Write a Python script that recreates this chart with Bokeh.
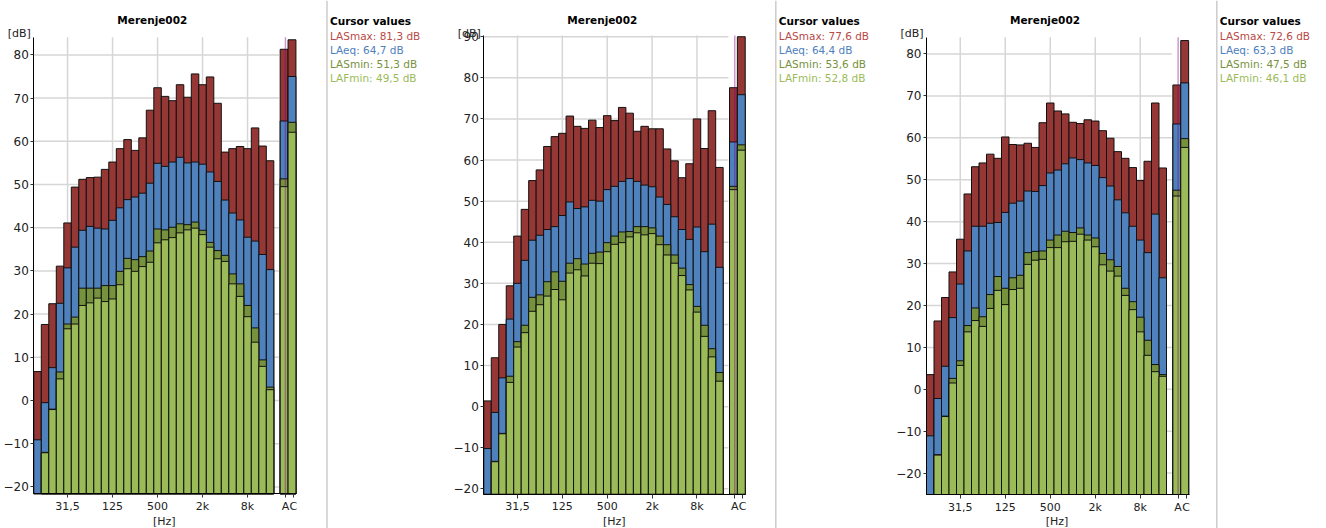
import numpy as np
from bokeh.plotting import figure
from bokeh.layouts import row
from bokeh.models import Range1d, FixedTicker, SingleIntervalTicker
from bokeh.core.properties import value
from bokeh.embed import file_html
from bokeh.resources import INLINE

# ---------------- data ----------------
bands = ["12,5", "16", "20", "25", "31,5", "40", "50", "63", "80", "100", "125", "160",
         "200", "250", "315", "400", "500", "630", "800", "1k", "1,25k", "1,6k", "2k",
         "2,5k", "3,15k", "4k", "5k", "6,3k", "8k", "10k", "12,5k", "16k"]
labelled_bands = ["31,5", "125", "500", "2k", "8k"]
ac_labels = ["A", "C"]
series_names = ["LASmax", "LAeq", "LASmin", "LAFmin"]
panel_titles = ["Merenje002", "Merenje002", "Merenje002"]

p1_lasmax = [6.7, 17.6, 22.4, 31.1, 41.1, 49.4, 51.2, 51.6, 51.7, 53.5, 55.2, 58.3, 60.4, 57.9,
             60.8, 67.2, 72.4, 70.4, 69.4, 73.1, 70.2, 75.6, 73.1, 74.9, 68.8, 57.5, 58.3, 58.8,
             58.3, 63.1, 58.9, 55.5]
p1_laeq = [-9.1, -0.5, 7.6, 22.5, 30.7, 35.5, 39.4, 40.3, 39.9, 39.7, 41.7, 44.6, 46.5, 47.1,
           48.0, 50.3, 54.9, 54.2, 55.2, 56.3, 55.0, 55.2, 54.7, 52.9, 50.7, 46.4, 43.4, 41.8,
           37.8, 36.9, 33.8, 30.3]
p1_lasmin = [-30.0, -12.0, -2.0, 6.6, 17.7, 19.3, 26.0, 26.0, 26.0, 26.6, 26.6, 29.9, 32.9, 32.6,
             33.3, 34.6, 39.7, 39.5, 40.1, 40.9, 40.7, 41.3, 39.4, 36.6, 34.7, 33.6, 29.3, 27.0,
             22.0, 16.8, 9.4, 3.1]
p1_lafmin = [-30.0, -12.1, -2.1, 5.0, 16.6, 17.7, 22.0, 22.6, 23.7, 22.9, 23.5, 26.8, 30.5, 29.9,
             31.0, 32.0, 36.5, 37.2, 37.7, 38.8, 39.5, 39.9, 38.4, 35.5, 32.8, 32.2, 27.0, 24.1,
             19.4, 13.5, 7.9, 2.5]
p1_ac = {"LASmax": [81.3, 83.5], "LAeq": [64.7, 75.0], "LASmin": [51.3, 64.4], "LAFmin": [49.5, 62.1]}

p2_lasmax = [1.4, 11.9, 20.0, 29.4, 41.5, 48.0, 55.0, 57.6, 63.3, 65.7, 66.5, 70.7, 68.2, 67.7,
             69.7, 67.9, 70.8, 69.6, 72.8, 71.4, 67.0, 68.2, 67.6, 67.6, 62.7, 59.8, 55.7, 59.1,
             70.0, 62.8, 72.0, 58.2]
p2_laeq = [-10.2, -1.4, 7.0, 21.3, 30.0, 35.6, 40.5, 41.7, 43.1, 43.8, 46.5, 49.8, 48.2, 48.6,
           50.2, 50.0, 52.8, 53.6, 54.8, 55.5, 54.8, 53.9, 53.5, 51.0, 49.2, 46.2, 43.1, 40.7,
           43.7, 37.7, 44.4, 33.9]
p2_lasmin = [-30.0, -13.3, -6.5, 7.4, 15.8, 19.8, 26.6, 27.2, 30.4, 32.8, 30.5, 34.9, 36.0, 34.7,
             37.3, 37.6, 39.9, 41.5, 42.5, 42.6, 43.8, 43.8, 43.5, 41.5, 39.4, 36.9, 33.7, 29.7,
             24.4, 19.8, 14.1, 8.3]
p2_lafmin = [-30.0, -13.4, -6.6, 5.9, 14.5, 18.0, 23.2, 24.8, 26.9, 28.5, 26.0, 32.5, 33.3, 31.8,
             34.9, 34.8, 37.7, 39.5, 39.9, 41.3, 42.3, 41.8, 42.1, 39.4, 36.9, 34.9, 31.9, 28.4,
             23.0, 17.1, 12.1, 6.2]
p2_ac = {"LASmax": [77.6, 90.0], "LAeq": [64.4, 75.9], "LASmin": [53.6, 63.7], "LAFmin": [52.8, 62.4]}

p3_lasmax = [3.5, 16.3, 21.9, 28.0, 35.8, 46.6, 53.1, 54.0, 56.1, 55.1, 60.2, 58.4, 58.3, 58.7,
             57.7, 63.6, 68.3, 66.4, 65.7, 63.7, 63.4, 64.3, 64.0, 61.7, 59.9, 56.7, 55.1, 52.9,
             49.8, 54.4, 68.3, 52.8]
p3_laeq = [-11.1, -2.2, 5.5, 17.1, 25.1, 33.0, 38.9, 38.9, 39.6, 39.8, 42.2, 44.4, 44.9, 47.3,
           47.2, 48.6, 51.6, 52.3, 53.8, 55.2, 54.8, 54.0, 53.4, 50.5, 48.5, 45.2, 42.1, 38.9,
           35.6, 32.6, 41.8, 26.6]
p3_lasmin = [-30.0, -15.6, -6.4, 2.6, 6.8, 15.2, 19.4, 17.3, 22.6, 26.9, 24.1, 26.6, 27.2, 32.6,
             32.9, 33.0, 35.6, 36.8, 37.7, 37.4, 38.5, 36.8, 36.1, 32.4, 30.9, 29.3, 24.1, 20.9,
             17.2, 11.7, 5.9, 3.5]
p3_lafmin = [-30.0, -15.7, -6.5, 1.5, 5.7, 13.7, 16.4, 15.0, 19.3, 23.6, 20.2, 23.8, 24.1, 29.8,
             30.8, 31.0, 33.8, 33.8, 35.2, 35.3, 37.0, 35.6, 34.0, 29.7, 28.2, 27.0, 22.4, 19.0,
             13.7, 8.1, 4.2, 3.1]
p3_ac = {"LASmax": [72.6, 83.2], "LAeq": [63.3, 73.1], "LASmin": [47.5, 59.8], "LAFmin": [46.1, 57.7]}

y_ranges = [(-21.6, 84.1), (-21.3, 90.3), (-25.1, 84.0)]

# ---------------- style / layout ----------------
COLORS = ["#953735", "#4F81BD", "#76923C", "#9BBB59"]
TEXT_COLORS = ["#B84A47", "#4F81BD", "#76923C", "#9BBB59"]
GRID = "#d6d6d6"
FONT = "DejaVu Sans"
H = 528
MAIN_END = 32.7
AC_LEFT = [32.85, 33.9]
AC_RIGHT = [33.9, 34.95]
AC_TICKS = [33.55, 34.6]
AXIS_END = 35.0

geom = [
    dict(left=0, width=451, axis=33.3, bw=7.5, top=36.7, bottom=493.3, sep=326.5),
    dict(left=451, width=443, axis=483.3, bw=7.48, top=35.0, bottom=493.7, sep=775.3),
    dict(left=894, width=432, axis=926.0, bw=7.5, top=36.7, bottom=494.0, sep=1216.3),
]


def fmt(v):
    return f"{v:.1f}".replace(".", ",")


def make_panel(title, series, ac, yr, g):
    y0, y1 = yr
    s = (g["bottom"] - g["top"]) / (y1 - y0)          # px per dB
    bw = g["bw"]

    def X(px):
        return (px - g["axis"]) / bw

    def Y(py):
        return y0 + (g["bottom"] - py) / s

    p = figure(width=g["width"], height=H,
               x_range=Range1d(X(g["left"]), X(g["left"] + g["width"])),
               y_range=Range1d(Y(H), Y(0)),
               output_backend="svg", toolbar_location=None, min_border=0)
    p.outline_line_color = None
    p.xgrid.visible = False
    p.ygrid.visible = False

    tick_pos = [bands.index(b) + 0.5 for b in labelled_bands]
    ylev = list(np.arange(np.ceil(y0 / 10) * 10, y1 + 0.001, 10))
    p.segment(x0=0, x1=MAIN_END, y0=ylev, y1=ylev, line_color=GRID, line_width=1.5)
    p.segment(x0=tick_pos, x1=tick_pos, y0=y0, y1=y1, line_color=GRID, line_width=1.5)

    n = len(bands)
    lefts = list(np.arange(n)) + AC_LEFT
    rights = list(np.arange(n) + 1) + AC_RIGHT
    for name, col in zip(series_names, COLORS):
        tops = np.array(list(series[name]) + list(ac[name]), dtype=float)
        tops = np.where(tops < y0, np.nan, tops)       # below the axis: not visible
        p.quad(left=lefts, right=rights, bottom=y0, top=tops, fill_color=col,
               line_color="#111111", line_width=1)

    # cursor line at A
    p.segment(x0=AC_TICKS[0], x1=AC_TICKS[0], y0=y0, y1=y1, line_color="#800080",
              line_alpha=0.4, line_width=1.5)

    xa = p.xaxis[0]
    xa.fixed_location = y0
    xa.bounds = (0, AXIS_END)
    xa.ticker = FixedTicker(ticks=tick_pos + AC_TICKS)
    xa.major_label_overrides = {t: l for t, l in zip(tick_pos + AC_TICKS, labelled_bands + ac_labels)}
    xa.minor_tick_line_color = None
    xa.major_tick_out = 4
    xa.major_tick_in = 0
    xa.major_label_standoff = 2
    xa.major_label_text_font = FONT
    xa.major_label_text_font_size = "11px"
    xa.major_label_text_color = "#222222"
    xa.axis_line_color = "black"
    xa.major_tick_line_color = "#333333"

    ya = p.yaxis[0]
    ya.fixed_location = 0
    ya.bounds = (y0, y1)
    ya.ticker = SingleIntervalTicker(interval=10, num_minor_ticks=0)
    ya.minor_tick_line_color = None
    ya.major_tick_out = 3
    ya.major_tick_in = 0
    ya.major_label_standoff = 2
    ya.major_label_text_font = FONT
    ya.major_label_text_font_size = "12px"
    ya.major_label_text_color = "#222222"
    ya.axis_line_color = "black"
    ya.major_tick_line_color = "#333333"

    ax = g["axis"]
    p.text(x=[X(ax + 118.5)], y=[Y(19.3)], text=[title], text_align="center",
           text_baseline="alphabetic", text_font=value(FONT), text_font_style="bold",
           text_font_size="10.5px", text_color="black")
    p.text(x=[X(ax - 26)], y=[Y(33)], text=["[dB]"], text_align="left",
           text_baseline="alphabetic", text_font=value(FONT), text_font_size="11px",
           text_color="#222222")
    p.text(x=[X(ax + 130.5)], y=[Y(521)], text=["[Hz]"], text_align="center",
           text_baseline="alphabetic", text_font=value(FONT), text_font_size="11px",
           text_color="#222222")

    # "Cursor values" box
    sx = X(g["sep"])
    p.segment(x0=sx, x1=sx, y0=Y(0), y1=Y(H), line_color="#cccccc", line_width=1.5)
    tx = X(g["sep"] + 3)
    p.text(x=[tx], y=[Y(20)], text=["Cursor values"], text_font=value(FONT),
           text_font_style="bold", text_font_size="10.5px", text_color="black",
           text_baseline="alphabetic")
    lines = [f"{nm}: {fmt(ac[nm][0])} dB" for nm in series_names]
    p.text(x=[tx] * 4, y=[Y(v) for v in (35.6, 49.4, 63.6, 77.6)], text=lines,
           text_font=value(FONT), text_font_size="10.5px", text_color=TEXT_COLORS,
           text_baseline="alphabetic")
    return p


s1 = {"LASmax": p1_lasmax, "LAeq": p1_laeq, "LASmin": p1_lasmin, "LAFmin": p1_lafmin}
s2 = {"LASmax": p2_lasmax, "LAeq": p2_laeq, "LASmin": p2_lasmin, "LAFmin": p2_lafmin}
s3 = {"LASmax": p3_lasmax, "LAeq": p3_laeq, "LASmin": p3_lasmin, "LAFmin": p3_lafmin}

f1 = make_panel(panel_titles[0], s1, p1_ac, y_ranges[0], geom[0])
f2 = make_panel(panel_titles[1], s2, p2_ac, y_ranges[1], geom[1])
f3 = make_panel(panel_titles[2], s3, p3_ac, y_ranges[2], geom[2])

layout = row(f1, f2, f3)
open("out.html", "w").write(file_html(layout, INLINE))
